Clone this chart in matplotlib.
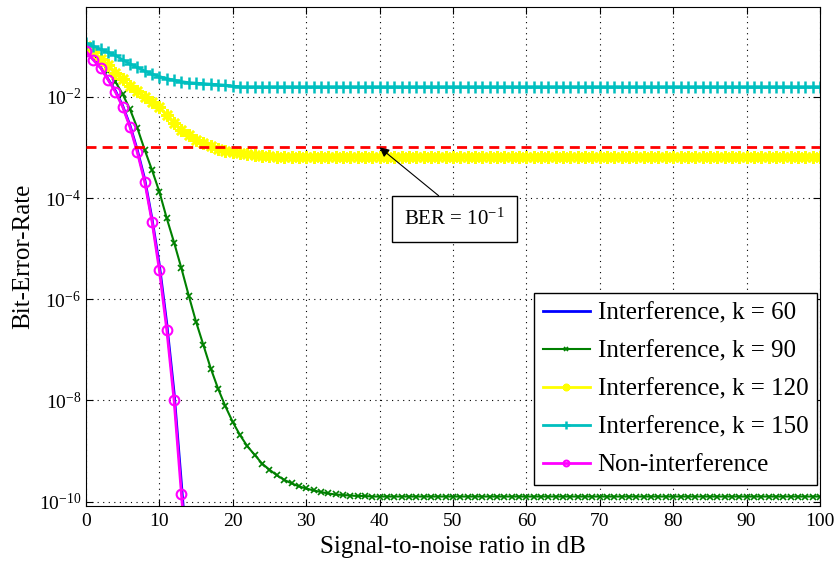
import numpy as np
import matplotlib
matplotlib.use("Agg")
import matplotlib.pyplot as plt
from matplotlib.ticker import FixedLocator, NullLocator

plt.rcParams['font.family'] = ['Liberation Serif', 'DejaVu Serif']
plt.rcParams['mathtext.fontset'] = 'custom'
plt.rcParams['mathtext.rm'] = 'Liberation Serif'
plt.rcParams['mathtext.it'] = 'Liberation Serif:italic'

# SNR axis (dB), one point per dB
snr_db = np.arange(0, 101)
snr_short = np.arange(0, 15)

# log10(BER)
log_ber_k60 = [-1.09, -1.26, -1.42, -1.65, -1.88, -2.18, -2.57, -3.06, -3.63, -4.42,
               -5.33, -6.48, -7.85, -9.65, -11.5]
log_ber_none = [-1.10, -1.27, -1.43, -1.66, -1.90, -2.20, -2.60, -3.10, -3.68, -4.47,
                -5.43, -6.60, -8.00, -9.85, -11.7]
log_ber_k90 = [-1.07, -1.18, -1.30, -1.48, -1.70, -1.95, -2.25, -2.62, -3.05, -3.45,
               -3.88, -4.40, -4.88, -5.39, -5.93, -6.45, -6.91, -7.37, -7.77, -8.12,
               -8.43, -8.69, -8.91, -9.08, -9.25, -9.37, -9.48, -9.57, -9.64, -9.70,
               -9.74, -9.78, -9.81, -9.84, -9.86, -9.87, -9.88, -9.89, -9.89, -9.90,
               -9.90, -9.90, -9.90, -9.90, -9.90, -9.90, -9.90, -9.90, -9.90, -9.90,
               -9.90, -9.90, -9.90, -9.90, -9.90, -9.90, -9.90, -9.90, -9.90, -9.90,
               -9.90, -9.90, -9.90, -9.90, -9.90, -9.90, -9.90, -9.90, -9.90, -9.90,
               -9.90, -9.90, -9.90, -9.90, -9.90, -9.90, -9.90, -9.90, -9.90, -9.90,
               -9.90, -9.90, -9.90, -9.90, -9.90, -9.90, -9.90, -9.90, -9.90, -9.90,
               -9.90, -9.90, -9.90, -9.90, -9.90, -9.90, -9.90, -9.90, -9.90, -9.90,
               -9.90]
log_ber_k120 = [-1.00, -1.12, -1.25, -1.38, -1.52, -1.65, -1.78, -1.88, -2.00, -2.10,
                -2.21, -2.36, -2.52, -2.65, -2.76, -2.85, -2.92, -2.98, -3.03, -3.07,
                -3.10, -3.12, -3.14, -3.15, -3.16, -3.17, -3.18, -3.18, -3.18, -3.18,
                -3.18, -3.18, -3.18, -3.18, -3.18, -3.18, -3.18, -3.18, -3.18, -3.18,
                -3.18, -3.18, -3.18, -3.18, -3.18, -3.18, -3.18, -3.18, -3.18, -3.18,
                -3.18, -3.18, -3.18, -3.18, -3.18, -3.18, -3.18, -3.18, -3.18, -3.18,
                -3.18, -3.18, -3.18, -3.18, -3.18, -3.18, -3.18, -3.18, -3.18, -3.18,
                -3.18, -3.18, -3.18, -3.18, -3.18, -3.18, -3.18, -3.18, -3.18, -3.18,
                -3.18, -3.18, -3.18, -3.18, -3.18, -3.18, -3.18, -3.18, -3.18, -3.18,
                -3.18, -3.18, -3.18, -3.18, -3.18, -3.18, -3.18, -3.18, -3.18, -3.18,
                -3.18]
log_ber_k150 = [-0.94, -1.00, -1.06, -1.12, -1.18, -1.27, -1.35, -1.42, -1.49, -1.55,
                -1.60, -1.64, -1.67, -1.70, -1.72, -1.73, -1.74, -1.75, -1.76, -1.77,
                -1.79, -1.80, -1.80, -1.80, -1.80, -1.80, -1.80, -1.80, -1.80, -1.80,
                -1.80, -1.80, -1.80, -1.80, -1.80, -1.80, -1.80, -1.80, -1.80, -1.80,
                -1.80, -1.80, -1.80, -1.80, -1.80, -1.80, -1.80, -1.80, -1.80, -1.80,
                -1.80, -1.80, -1.80, -1.80, -1.80, -1.80, -1.80, -1.80, -1.80, -1.80,
                -1.80, -1.80, -1.80, -1.80, -1.80, -1.80, -1.80, -1.80, -1.80, -1.80,
                -1.80, -1.80, -1.80, -1.80, -1.80, -1.80, -1.80, -1.80, -1.80, -1.80,
                -1.80, -1.80, -1.80, -1.80, -1.80, -1.80, -1.80, -1.80, -1.80, -1.80,
                -1.80, -1.80, -1.80, -1.80, -1.80, -1.80, -1.80, -1.80, -1.80, -1.80,
                -1.80]

ber_threshold = 1e-3
arrow_snr = 40
labels = ['Interference, k = 60', 'Interference, k = 90', 'Interference, k = 120',
          'Interference, k = 150', 'Non-interference']
y_ticks = [1e-10, 1e-8, 1e-6, 1e-4, 1e-2]
y_tick_labels = ['10$^{-10}$', '10$^{-8}$', '10$^{-6}$', '10$^{-4}$', '10$^{-2}$']
x_ticks = list(range(0, 101, 10))

fig = plt.figure(figsize=(8.35, 5.63), dpi=100)
ax = fig.add_axes([0.103, 0.101, 0.879, 0.887])

ax.semilogy(snr_short, 10 ** np.array(log_ber_k60), color='#0000ff', lw=2, label=labels[0])
ax.semilogy(snr_db, 10 ** np.array(log_ber_k90), color='#008000', lw=1.5,
            marker='x', ms=4, mew=1.2, label=labels[1])
ax.semilogy(snr_db, 10 ** np.array(log_ber_k120), color='#ffff00', lw=2,
            marker=(8, 2, 0), ms=9, mew=1.8, label=labels[2])
ax.semilogy(snr_db, 10 ** np.array(log_ber_k150), color='#00bfbf', lw=2,
            marker='+', ms=9, mew=1.8, label=labels[3])
ax.semilogy(snr_short, 10 ** np.array(log_ber_none), color='#ff00ff', lw=2,
            marker='o', ms=7, mfc='none', mew=1.5, label=labels[4])

ax.axhline(ber_threshold, color='#ff0000', lw=2, dashes=(3.6, 2.2), zorder=3)

ax.annotate('BER = 10$^{-1}$', xy=(arrow_snr, ber_threshold), xytext=(50.2, 10 ** -4.42),
            ha='center', va='center', fontsize=15,
            bbox=dict(boxstyle='square,pad=0.6', fc='white', ec='black', lw=1),
            arrowprops=dict(arrowstyle='-|>', color='black', lw=0.8, relpos=(0.5, 1.0),
                            shrinkA=0, shrinkB=0, mutation_scale=14))

ax.set_xlim(0, 100)
ax.set_ylim(10 ** -10.09, 10 ** -0.22)
ax.xaxis.set_major_locator(FixedLocator(x_ticks))
ax.yaxis.set_major_locator(FixedLocator(y_ticks))
ax.yaxis.set_minor_locator(NullLocator())
ax.set_yticklabels(y_tick_labels)
ax.tick_params(which='both', direction='in', top=True, right=True, labelsize=14, length=5)
ax.tick_params(axis='x', pad=5)
ax.grid(True, which='major', color='black', linestyle=(0, (1, 4)), lw=0.8)

ax.set_xlabel('Signal-to-noise ratio in dB', fontsize=18, labelpad=4)
ax.set_ylabel('Bit-Error-Rate', fontsize=18, labelpad=3)

leg = ax.legend(loc='lower right', bbox_to_anchor=(0.996, 0.042), borderaxespad=0,
                fontsize=18, fancybox=False, framealpha=1, edgecolor='black',
                handlelength=1.9, labelspacing=0.62, borderpad=0.35, handletextpad=0.3,
                markerscale=0.6)
leg.get_frame().set_linewidth(1)

fig.savefig('out.png', dpi=100)
